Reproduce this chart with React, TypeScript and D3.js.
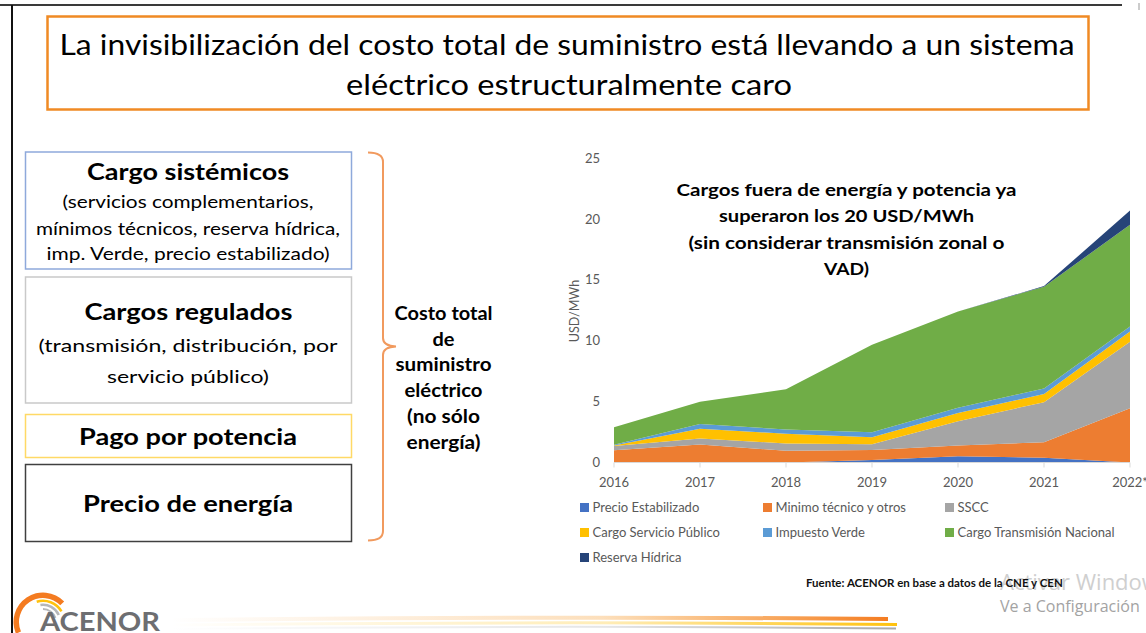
import React from 'react';
import * as d3 from 'd3';

// ---------- data ----------
const years = ['2016', '2017', '2018', '2019', '2020', '2021', '2022*'];
const precioEstabilizado = [0, 0, 0, 0.2, 0.52, 0.4, 0];
const minimoTecnico = [1.0, 1.48, 0.96, 0.82, 0.88, 1.27, 4.46];
const sscc = [0.35, 0.5, 0.6, 0.47, 2.0, 3.29, 5.47];
const cargoServicioPublico = [0.05, 0.8, 0.8, 0.58, 0.66, 0.66, 0.83];
const impuestoVerde = [0.05, 0.38, 0.35, 0.41, 0.44, 0.47, 0.41];
const cargoTransmisionNacional = [1.45, 1.84, 3.3, 7.2, 7.9, 8.36, 8.36];
const reservaHidrica = [0, 0, 0, 0, 0, 0.05, 1.17];

const seriesKeys = ['pe', 'mt', 'sscc', 'csp', 'iv', 'ctn', 'rh'];
const seriesLabels = [
  'Precio Estabilizado',
  'Minimo técnico y otros',
  'SSCC',
  'Cargo Servicio Público',
  'Impuesto Verde',
  'Cargo Transmisión Nacional',
  'Reserva Hídrica',
];
const seriesColors = ['#4472C4', '#ED7D31', '#A5A5A5', '#FFC000', '#5B9BD5', '#70AD47', '#264478'];
const seriesValues = [
  precioEstabilizado,
  minimoTecnico,
  sscc,
  cargoServicioPublico,
  impuestoVerde,
  cargoTransmisionNacional,
  reservaHidrica,
];
const yTicks = [0, 5, 10, 15, 20, 25];

const titleLines = [
  'La invisibilización del costo total de suministro está llevando a un sistema',
  'eléctrico estructuralmente caro',
];
const noteLines = [
  'Cargos fuera de energía y potencia ya',
  'superaron los 20 USD/MWh',
  '(sin considerar transmisión zonal o',
  'VAD)',
];
const braceLines = ['Costo total', 'de', 'suministro', 'eléctrico', '(no sólo', 'energía)'];

const FONT = 'Lato, "Open Sans", sans-serif';

function T(props: any) {
  const { x, y, s, size, w = 400, fill = '#000', anchor = 'middle', len, family = FONT } = props;
  return (
    <text
      x={x}
      y={y}
      fontSize={size}
      fontWeight={w}
      fill={fill}
      textAnchor={anchor}
      fontFamily={family}
      textLength={len}
      lengthAdjust={len ? 'spacingAndGlyphs' : undefined}
    >
      {s}
    </text>
  );
}

export default function App() {
  const rows = years.map((yr, i) => {
    const r: any = { year: yr };
    seriesKeys.forEach((k, j) => (r[k] = seriesValues[j][i]));
    return r;
  });
  const stack = d3.stack().keys(seriesKeys)(rows as any);

  const x = d3.scalePoint().domain(years).range([614, 1130]);
  const y = d3.scaleLinear().domain([0, 25]).range([462.5, 158.3]);

  const area = d3
    .area<any>()
    .x((d: any) => x(d.data.year) as number)
    .y0((d: any) => y(d[0]))
    .y1((d: any) => y(d[1]));

  // logo arcs
  const arcOrange = d3.arc()({ innerRadius: 24, outerRadius: 29.5, startAngle: -1.98, endAngle: 0.8 } as any) as string;
  const arcYellow = d3.arc()({ innerRadius: 20, outerRadius: 22.5, startAngle: -0.3, endAngle: 1.05 } as any) as string;
  const arcGray1 = d3.arc()({ innerRadius: 16, outerRadius: 18.5, startAngle: -0.15, endAngle: 1.15 } as any) as string;
  const arcGray2 = d3.arc()({ innerRadius: 12, outerRadius: 14, startAngle: 0, endAngle: 1.25 } as any) as string;

  const legendCols = [580, 763, 945];
  const legendRows = [507.5, 532.5, 557.5];

  return (
    <svg
      width={1146}
      height={633}
      style={{ position: 'absolute', left: 0, top: 0, background: '#fff' }}
    >
      <defs>
        <linearGradient id="swO" gradientUnits="userSpaceOnUse" x1={170} x2={890} y1={0} y2={0}>
          <stop offset="0" stopColor="#F7941D" stopOpacity={0} />
          <stop offset="0.6" stopColor="#F7941D" stopOpacity={0.3} />
          <stop offset="1" stopColor="#F47B20" stopOpacity={1} />
        </linearGradient>
        <linearGradient id="swY" gradientUnits="userSpaceOnUse" x1={170} x2={898} y1={0} y2={0}>
          <stop offset="0" stopColor="#FFC20E" stopOpacity={0} />
          <stop offset="0.6" stopColor="#FFC20E" stopOpacity={0.3} />
          <stop offset="1" stopColor="#FFC20E" stopOpacity={1} />
        </linearGradient>
        <linearGradient id="swG" gradientUnits="userSpaceOnUse" x1={170} x2={897} y1={0} y2={0}>
          <stop offset="0" stopColor="#A7A9AC" stopOpacity={0} />
          <stop offset="0.6" stopColor="#A7A9AC" stopOpacity={0.3} />
          <stop offset="1" stopColor="#A7A9AC" stopOpacity={1} />
        </linearGradient>
      </defs>

      {/* slide frame */}
      <line x1={0} x2={1122} y1={5} y2={5} stroke="#3a3a3a" strokeWidth={2} />
      <line x1={1139} x2={1139} y1={3} y2={10} stroke="#999" strokeWidth={1} />
      <line x1={12} x2={12} y1={5} y2={633} stroke="#111" strokeWidth={2} />

      {/* title box */}
      <rect x={47.5} y={16.5} width={1041} height={93} fill="#fff" stroke="#F08A24" strokeWidth={2.5} />
      <T x={567} y={54.5} s={titleLines[0]} size={29} len={1015} />
      <T x={569} y={95} s={titleLines[1]} size={29} len={446} />

      {/* left boxes */}
      <rect x={25.5} y={152} width={326} height={117} fill="#fff" stroke="#8EA9DB" strokeWidth={1.5} />
      <T x={188} y={180} s="Cargo sistémicos" size={22} w={700} len={202} />
      <T x={188} y={208} s="(servicios complementarios," size={18} len={251} />
      <T x={188} y={235} s="mínimos técnicos, reserva hídrica," size={18} len={304} />
      <T x={188} y={260} s="imp. Verde, precio estabilizado)" size={18} len={283} />

      <rect x={25.5} y={277} width={326} height={126} fill="#fff" stroke="#C9C9C9" strokeWidth={1.5} />
      <T x={188.5} y={320} s="Cargos regulados" size={22} w={700} len={208} />
      <T x={188} y={352} s="(transmisión, distribución, por" size={18} len={299} />
      <T x={188} y={383} s="servicio público)" size={18} len={162} />

      <rect x={25.5} y={414.5} width={326} height={43} fill="#fff" stroke="#FFD966" strokeWidth={1.5} />
      <T x={188} y={445} s="Pago por potencia" size={22} w={700} len={218} />

      <rect x={25.5} y={464.5} width={326} height={77} fill="#fff" stroke="#404040" strokeWidth={1.5} />
      <T x={188} y={512} s="Precio de energía" size={22} w={700} len={210} />

      {/* brace */}
      <path
        d="M368,152.5 Q383,152.5 383,162 L383,338 Q383,346 396,346.5 Q383,347 383,355 L383,531 Q383,540.5 368,540.5"
        fill="none"
        stroke="#F19A5E"
        strokeWidth={2}
      />
      {braceLines.map((s, i) => (
        <T
          key={s}
          x={443.5}
          y={320 + i * 25.7}
          s={s}
          size={18}
          w={700}
          len={[98, 22, 96, 78, 73, 74][i]}
        />
      ))}

      {/* chart: areas */}
      {stack.map((layer: any, i: number) => (
        <path key={seriesKeys[i]} d={area(layer) as string} fill={seriesColors[i]} />
      ))}

      {/* x axis */}
      <line x1={x(years[0])} x2={x(years[years.length - 1])} y1={y(0)} y2={y(0)} stroke="#D9D9D9" strokeWidth={1} />
      {years.map((yr) => (
        <g key={yr}>
          <line x1={x(yr)} x2={x(yr)} y1={y(0)} y2={y(0) + 5} stroke="#D9D9D9" strokeWidth={1} />
          <T x={x(yr)} y={487} s={yr} size={13} fill="#595959" />
        </g>
      ))}
      {/* y axis labels */}
      {yTicks.map((t) => (
        <T key={t} x={600} y={y(t) + 4.5} s={String(t)} size={13} fill="#595959" anchor="end" />
      ))}
      <g transform="translate(579,311) rotate(-90)">
        <T x={0} y={0} s="USD/MWh" size={12.5} fill="#595959" />
      </g>

      {/* annotation */}
      {noteLines.map((s, i) => (
        <T
          key={s}
          x={846.5}
          y={196 + i * 26.3}
          s={s}
          size={17.5}
          w={700}
          len={[340, 255, 316, 45][i]}
        />
      ))}

      {/* legend */}
      {seriesLabels.map((s, i) => {
        const cx = legendCols[i % 3];
        const cy = legendRows[Math.floor(i / 3)];
        return (
          <g key={s}>
            <rect x={cx} y={cy - 4.5} width={9} height={9} fill={seriesColors[i]} />
            <T x={cx + 12.5} y={cy + 4.5} s={s} size={13} fill="#595959" anchor="start" />
          </g>
        );
      })}

      {/* watermark */}
      <T x={1000} y={590} s="Activar Windows" size={22} fill="#cfcfcf" anchor="start" family='"Open Sans", sans-serif' />
      <T x={1000} y={612} s="Ve a Configuración" size={16} fill="#a3a3a3" anchor="start" family='"Open Sans", sans-serif' />

      {/* source */}
      <T x={806} y={587} s="Fuente: ACENOR en base a datos de la CNE y CEN" size={11.5} w={700} fill="#111" anchor="start" />

      {/* bottom swoosh */}
      <path d="M170,620 Q560,616 888,619" fill="none" stroke="url(#swO)" strokeWidth={4} />
      <path d="M170,625 Q560,621 897,624.5" fill="none" stroke="url(#swY)" strokeWidth={3} />
      <path d="M170,629 Q560,625 896,628.5" fill="none" stroke="url(#swG)" strokeWidth={2} />

      {/* logo */}
      <g transform="translate(43,622)">
        <path d={arcGray2} fill="#B5B7BA" />
        <path d={arcGray1} fill="#B5B7BA" />
        <path d={arcYellow} fill="#FFC20E" />
        <path d={arcOrange} fill="#F47B20" />
      </g>
      <T x={40} y={631} s="ACENOR" size={26} w={700} fill="#6D6E71" anchor="start" len={120} />
    </svg>
  );
}
